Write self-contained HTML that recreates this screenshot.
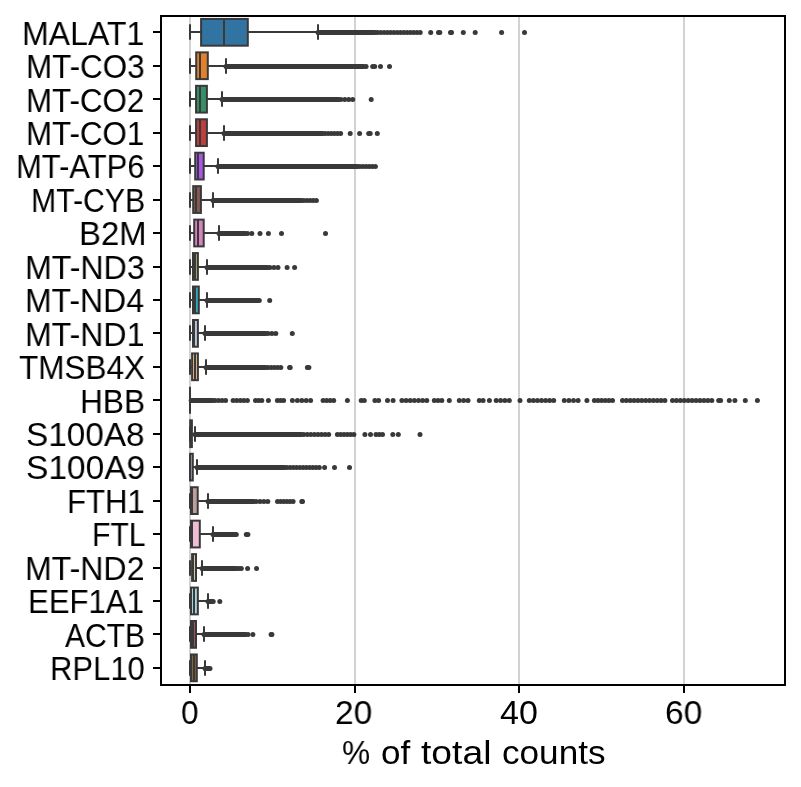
<!DOCTYPE html>
<html><head><meta charset="utf-8"><style>
html,body{margin:0;padding:0;background:#fff;}
body{width:801px;height:787px;position:relative;overflow:hidden;}
svg{position:absolute;left:0;top:0;}
.t{position:absolute;font-family:"Liberation Sans",sans-serif;font-size:34px;line-height:1;white-space:nowrap;color:#000;transform-origin:0 0;-webkit-font-smoothing:antialiased;will-change:transform;}
</style></head><body>
<svg width="801" height="787" viewBox="0 0 801 787">
<line x1="190" y1="16" x2="190" y2="685" stroke="#d2d2d2" stroke-width="2"/>
<line x1="355" y1="16" x2="355" y2="685" stroke="#d2d2d2" stroke-width="2"/>
<line x1="519" y1="16" x2="519" y2="685" stroke="#d2d2d2" stroke-width="2"/>
<line x1="684" y1="16" x2="684" y2="685" stroke="#d2d2d2" stroke-width="2"/>
<rect x="201.10" y="18.92" width="46.70" height="26.76" fill="#3274a1" stroke="#393939" stroke-width="2"/>
<line x1="190" y1="32" x2="201.10" y2="32" stroke="#393939" stroke-width="2"/>
<line x1="247.80" y1="32" x2="318" y2="32" stroke="#393939" stroke-width="2"/>
<line x1="190" y1="25.30" x2="190" y2="38.70" stroke="#393939" stroke-width="2" stroke-linecap="square"/>
<line x1="318" y1="25.30" x2="318" y2="38.70" stroke="#393939" stroke-width="2" stroke-linecap="square"/>
<line x1="224" y1="18.92" x2="224" y2="45.68" stroke="#393939" stroke-width="2"/>
<line x1="318.00" y1="32.50" x2="375.00" y2="32.50" stroke="#393939" stroke-width="5.0" stroke-linecap="round"/>
<circle cx="377.50" cy="32.50" r="2.5" fill="#393939"/>
<circle cx="380.78" cy="32.50" r="2.5" fill="#393939"/>
<circle cx="384.07" cy="32.50" r="2.5" fill="#393939"/>
<circle cx="387.35" cy="32.50" r="2.5" fill="#393939"/>
<circle cx="390.64" cy="32.50" r="2.5" fill="#393939"/>
<circle cx="393.92" cy="32.50" r="2.5" fill="#393939"/>
<circle cx="397.21" cy="32.50" r="2.5" fill="#393939"/>
<circle cx="400.49" cy="32.50" r="2.5" fill="#393939"/>
<circle cx="403.78" cy="32.50" r="2.5" fill="#393939"/>
<circle cx="407.06" cy="32.50" r="2.5" fill="#393939"/>
<circle cx="410.35" cy="32.50" r="2.5" fill="#393939"/>
<circle cx="413.63" cy="32.50" r="2.5" fill="#393939"/>
<circle cx="416.92" cy="32.50" r="2.5" fill="#393939"/>
<circle cx="420.20" cy="32.50" r="2.5" fill="#393939"/>
<circle cx="438.50" cy="32.50" r="2.5" fill="#393939"/>
<circle cx="439.80" cy="32.50" r="2.5" fill="#393939"/>
<circle cx="450.50" cy="32.50" r="2.5" fill="#393939"/>
<circle cx="451.50" cy="32.50" r="2.5" fill="#393939"/>
<circle cx="430.7" cy="32.50" r="2.5" fill="#393939"/>
<circle cx="463.3" cy="32.50" r="2.5" fill="#393939"/>
<circle cx="475.2" cy="32.50" r="2.5" fill="#393939"/>
<circle cx="501.6" cy="32.50" r="2.5" fill="#393939"/>
<circle cx="524.5" cy="32.50" r="2.5" fill="#393939"/>
<rect x="196.20" y="52.37" width="11.60" height="26.76" fill="#e1812c" stroke="#393939" stroke-width="2"/>
<line x1="190" y1="66" x2="196.20" y2="66" stroke="#393939" stroke-width="2"/>
<line x1="207.80" y1="66" x2="226" y2="66" stroke="#393939" stroke-width="2"/>
<line x1="190" y1="59.30" x2="190" y2="72.70" stroke="#393939" stroke-width="2" stroke-linecap="square"/>
<line x1="226" y1="59.30" x2="226" y2="72.70" stroke="#393939" stroke-width="2" stroke-linecap="square"/>
<line x1="200" y1="52.37" x2="200" y2="79.13" stroke="#393939" stroke-width="2"/>
<line x1="226.00" y1="66.50" x2="363.70" y2="66.50" stroke="#393939" stroke-width="5.0" stroke-linecap="round"/>
<circle cx="366.10" cy="66.50" r="2.5" fill="#393939"/>
<circle cx="372.70" cy="66.50" r="2.5" fill="#393939"/>
<circle cx="374.70" cy="66.50" r="2.5" fill="#393939"/>
<circle cx="380.5" cy="66.50" r="2.5" fill="#393939"/>
<circle cx="389.5" cy="66.50" r="2.5" fill="#393939"/>
<rect x="196.05" y="85.82" width="10.85" height="26.76" fill="#368f67" stroke="#393939" stroke-width="2"/>
<line x1="190" y1="99" x2="196.05" y2="99" stroke="#393939" stroke-width="2"/>
<line x1="206.90" y1="99" x2="222" y2="99" stroke="#393939" stroke-width="2"/>
<line x1="190" y1="92.30" x2="190" y2="105.70" stroke="#393939" stroke-width="2" stroke-linecap="square"/>
<line x1="222" y1="92.30" x2="222" y2="105.70" stroke="#393939" stroke-width="2" stroke-linecap="square"/>
<line x1="200" y1="85.82" x2="200" y2="112.58" stroke="#393939" stroke-width="2"/>
<line x1="222.00" y1="99.50" x2="338.40" y2="99.50" stroke="#393939" stroke-width="5.0" stroke-linecap="round"/>
<circle cx="340.90" cy="99.50" r="2.5" fill="#393939"/>
<circle cx="344.83" cy="99.50" r="2.5" fill="#393939"/>
<circle cx="348.77" cy="99.50" r="2.5" fill="#393939"/>
<circle cx="352.70" cy="99.50" r="2.5" fill="#393939"/>
<circle cx="371.2" cy="99.50" r="2.5" fill="#393939"/>
<rect x="196.05" y="119.27" width="10.85" height="26.76" fill="#c03d3e" stroke="#393939" stroke-width="2"/>
<line x1="190" y1="133" x2="196.05" y2="133" stroke="#393939" stroke-width="2"/>
<line x1="206.90" y1="133" x2="224" y2="133" stroke="#393939" stroke-width="2"/>
<line x1="190" y1="126.30" x2="190" y2="139.70" stroke="#393939" stroke-width="2" stroke-linecap="square"/>
<line x1="224" y1="126.30" x2="224" y2="139.70" stroke="#393939" stroke-width="2" stroke-linecap="square"/>
<line x1="200" y1="119.27" x2="200" y2="146.03" stroke="#393939" stroke-width="2"/>
<line x1="224.00" y1="133.50" x2="322.50" y2="133.50" stroke="#393939" stroke-width="5.0" stroke-linecap="round"/>
<circle cx="325.00" cy="133.50" r="2.5" fill="#393939"/>
<circle cx="328.12" cy="133.50" r="2.5" fill="#393939"/>
<circle cx="331.24" cy="133.50" r="2.5" fill="#393939"/>
<circle cx="334.36" cy="133.50" r="2.5" fill="#393939"/>
<circle cx="337.48" cy="133.50" r="2.5" fill="#393939"/>
<circle cx="340.60" cy="133.50" r="2.5" fill="#393939"/>
<circle cx="368.70" cy="133.50" r="2.5" fill="#393939"/>
<circle cx="370.20" cy="133.50" r="2.5" fill="#393939"/>
<circle cx="350.2" cy="133.50" r="2.5" fill="#393939"/>
<circle cx="359.6" cy="133.50" r="2.5" fill="#393939"/>
<circle cx="377.3" cy="133.50" r="2.5" fill="#393939"/>
<rect x="195.20" y="152.72" width="8.50" height="26.76" fill="#a758e4" stroke="#393939" stroke-width="2"/>
<line x1="190" y1="166" x2="195.20" y2="166" stroke="#393939" stroke-width="2"/>
<line x1="203.70" y1="166" x2="218" y2="166" stroke="#393939" stroke-width="2"/>
<line x1="190" y1="159.30" x2="190" y2="172.70" stroke="#393939" stroke-width="2" stroke-linecap="square"/>
<line x1="218" y1="159.30" x2="218" y2="172.70" stroke="#393939" stroke-width="2" stroke-linecap="square"/>
<line x1="198" y1="152.72" x2="198" y2="179.48" stroke="#393939" stroke-width="2"/>
<line x1="218.00" y1="166.50" x2="357.30" y2="166.50" stroke="#393939" stroke-width="5.0" stroke-linecap="round"/>
<circle cx="359.80" cy="166.50" r="2.5" fill="#393939"/>
<circle cx="362.92" cy="166.50" r="2.5" fill="#393939"/>
<circle cx="366.04" cy="166.50" r="2.5" fill="#393939"/>
<circle cx="369.16" cy="166.50" r="2.5" fill="#393939"/>
<circle cx="372.28" cy="166.50" r="2.5" fill="#393939"/>
<circle cx="375.40" cy="166.50" r="2.5" fill="#393939"/>
<rect x="193.20" y="186.17" width="7.70" height="26.76" fill="#845b53" stroke="#393939" stroke-width="2"/>
<line x1="190" y1="200" x2="193.20" y2="200" stroke="#393939" stroke-width="2"/>
<line x1="200.90" y1="200" x2="213" y2="200" stroke="#393939" stroke-width="2"/>
<line x1="190" y1="193.30" x2="190" y2="206.70" stroke="#393939" stroke-width="2" stroke-linecap="square"/>
<line x1="213" y1="193.30" x2="213" y2="206.70" stroke="#393939" stroke-width="2" stroke-linecap="square"/>
<line x1="196" y1="186.17" x2="196" y2="212.93" stroke="#393939" stroke-width="2"/>
<line x1="213.00" y1="200.50" x2="301.20" y2="200.50" stroke="#393939" stroke-width="5.0" stroke-linecap="round"/>
<circle cx="303.70" cy="200.50" r="2.5" fill="#393939"/>
<circle cx="306.88" cy="200.50" r="2.5" fill="#393939"/>
<circle cx="310.05" cy="200.50" r="2.5" fill="#393939"/>
<circle cx="313.22" cy="200.50" r="2.5" fill="#393939"/>
<circle cx="316.40" cy="200.50" r="2.5" fill="#393939"/>
<rect x="194.20" y="219.62" width="9.50" height="26.76" fill="#d684bd" stroke="#393939" stroke-width="2"/>
<line x1="190" y1="233" x2="194.20" y2="233" stroke="#393939" stroke-width="2"/>
<line x1="203.70" y1="233" x2="219" y2="233" stroke="#393939" stroke-width="2"/>
<line x1="190" y1="226.30" x2="190" y2="239.70" stroke="#393939" stroke-width="2" stroke-linecap="square"/>
<line x1="219" y1="226.30" x2="219" y2="239.70" stroke="#393939" stroke-width="2" stroke-linecap="square"/>
<line x1="198" y1="219.62" x2="198" y2="246.38" stroke="#393939" stroke-width="2"/>
<line x1="219.00" y1="233.50" x2="245.00" y2="233.50" stroke="#393939" stroke-width="5.0" stroke-linecap="round"/>
<circle cx="247.50" cy="233.50" r="2.5" fill="#393939"/>
<circle cx="251.80" cy="233.50" r="2.5" fill="#393939"/>
<circle cx="260" cy="233.50" r="2.5" fill="#393939"/>
<circle cx="268.4" cy="233.50" r="2.5" fill="#393939"/>
<circle cx="281.5" cy="233.50" r="2.5" fill="#393939"/>
<circle cx="325.5" cy="233.50" r="2.5" fill="#393939"/>
<rect x="193.00" y="253.07" width="4.90" height="26.76" fill="#acb26d" stroke="#393939" stroke-width="2"/>
<line x1="190" y1="267" x2="193.00" y2="267" stroke="#393939" stroke-width="2"/>
<line x1="197.90" y1="267" x2="207" y2="267" stroke="#393939" stroke-width="2"/>
<line x1="190" y1="260.30" x2="190" y2="273.70" stroke="#393939" stroke-width="2" stroke-linecap="square"/>
<line x1="207" y1="260.30" x2="207" y2="273.70" stroke="#393939" stroke-width="2" stroke-linecap="square"/>
<line x1="195" y1="253.07" x2="195" y2="279.83" stroke="#393939" stroke-width="2"/>
<line x1="207.00" y1="267.50" x2="267.40" y2="267.50" stroke="#393939" stroke-width="5.0" stroke-linecap="round"/>
<circle cx="269.90" cy="267.50" r="2.5" fill="#393939"/>
<circle cx="273.95" cy="267.50" r="2.5" fill="#393939"/>
<circle cx="278.00" cy="267.50" r="2.5" fill="#393939"/>
<circle cx="287.1" cy="267.50" r="2.5" fill="#393939"/>
<circle cx="294.6" cy="267.50" r="2.5" fill="#393939"/>
<rect x="193.00" y="286.52" width="5.80" height="26.76" fill="#2eabb8" stroke="#393939" stroke-width="2"/>
<line x1="190" y1="300" x2="193.00" y2="300" stroke="#393939" stroke-width="2"/>
<line x1="198.80" y1="300" x2="207" y2="300" stroke="#393939" stroke-width="2"/>
<line x1="190" y1="293.30" x2="190" y2="306.70" stroke="#393939" stroke-width="2" stroke-linecap="square"/>
<line x1="207" y1="293.30" x2="207" y2="306.70" stroke="#393939" stroke-width="2" stroke-linecap="square"/>
<line x1="195" y1="286.52" x2="195" y2="313.28" stroke="#393939" stroke-width="2"/>
<line x1="207.00" y1="300.50" x2="259.30" y2="300.50" stroke="#393939" stroke-width="5.0" stroke-linecap="round"/>
<circle cx="269.7" cy="300.50" r="2.5" fill="#393939"/>
<rect x="193.00" y="319.97" width="4.90" height="26.76" fill="#b5c8e1" stroke="#393939" stroke-width="2"/>
<line x1="190" y1="333" x2="193.00" y2="333" stroke="#393939" stroke-width="2"/>
<line x1="197.90" y1="333" x2="205" y2="333" stroke="#393939" stroke-width="2"/>
<line x1="190" y1="326.30" x2="190" y2="339.70" stroke="#393939" stroke-width="2" stroke-linecap="square"/>
<line x1="205" y1="326.30" x2="205" y2="339.70" stroke="#393939" stroke-width="2" stroke-linecap="square"/>
<line x1="194" y1="319.97" x2="194" y2="346.73" stroke="#393939" stroke-width="2"/>
<line x1="205.00" y1="333.50" x2="265.50" y2="333.50" stroke="#393939" stroke-width="5.0" stroke-linecap="round"/>
<circle cx="268.00" cy="333.50" r="2.5" fill="#393939"/>
<circle cx="271.90" cy="333.50" r="2.5" fill="#393939"/>
<circle cx="275.80" cy="333.50" r="2.5" fill="#393939"/>
<circle cx="292.3" cy="333.50" r="2.5" fill="#393939"/>
<rect x="192.10" y="353.42" width="5.80" height="26.76" fill="#eebb89" stroke="#393939" stroke-width="2"/>
<line x1="190" y1="367" x2="192.10" y2="367" stroke="#393939" stroke-width="2"/>
<line x1="197.90" y1="367" x2="206" y2="367" stroke="#393939" stroke-width="2"/>
<line x1="190" y1="360.30" x2="190" y2="373.70" stroke="#393939" stroke-width="2" stroke-linecap="square"/>
<line x1="206" y1="360.30" x2="206" y2="373.70" stroke="#393939" stroke-width="2" stroke-linecap="square"/>
<line x1="195" y1="353.42" x2="195" y2="380.18" stroke="#393939" stroke-width="2"/>
<line x1="206.00" y1="367.50" x2="265.50" y2="367.50" stroke="#393939" stroke-width="5.0" stroke-linecap="round"/>
<circle cx="268.00" cy="367.50" r="2.5" fill="#393939"/>
<circle cx="271.20" cy="367.50" r="2.5" fill="#393939"/>
<circle cx="274.40" cy="367.50" r="2.5" fill="#393939"/>
<circle cx="277.60" cy="367.50" r="2.5" fill="#393939"/>
<circle cx="280.80" cy="367.50" r="2.5" fill="#393939"/>
<circle cx="289.60" cy="367.50" r="2.5" fill="#393939"/>
<circle cx="290.20" cy="367.50" r="2.5" fill="#393939"/>
<circle cx="307.40" cy="367.50" r="2.5" fill="#393939"/>
<circle cx="308.90" cy="367.50" r="2.5" fill="#393939"/>
<rect x="190.00" y="386.87" width="0.00" height="26.76" fill="#9fd495" stroke="#393939" stroke-width="2"/>
<line x1="190" y1="400" x2="190.00" y2="400" stroke="#393939" stroke-width="2"/>
<line x1="190.00" y1="400" x2="190" y2="400" stroke="#393939" stroke-width="2"/>
<line x1="190" y1="393.30" x2="190" y2="406.70" stroke="#393939" stroke-width="2" stroke-linecap="square"/>
<line x1="190" y1="393.30" x2="190" y2="406.70" stroke="#393939" stroke-width="2" stroke-linecap="square"/>
<line x1="190" y1="386.87" x2="190" y2="413.63" stroke="#393939" stroke-width="2"/>
<line x1="191.20" y1="400.50" x2="212.50" y2="400.50" stroke="#393939" stroke-width="5.0" stroke-linecap="round"/>
<circle cx="215.00" cy="400.50" r="2.5" fill="#393939"/>
<circle cx="218.53" cy="400.50" r="2.5" fill="#393939"/>
<circle cx="222.07" cy="400.50" r="2.5" fill="#393939"/>
<circle cx="225.60" cy="400.50" r="2.5" fill="#393939"/>
<circle cx="233.10" cy="400.50" r="2.5" fill="#393939"/>
<circle cx="236.68" cy="400.50" r="2.5" fill="#393939"/>
<circle cx="240.25" cy="400.50" r="2.5" fill="#393939"/>
<circle cx="243.82" cy="400.50" r="2.5" fill="#393939"/>
<circle cx="247.40" cy="400.50" r="2.5" fill="#393939"/>
<circle cx="255.50" cy="400.50" r="2.5" fill="#393939"/>
<circle cx="258.65" cy="400.50" r="2.5" fill="#393939"/>
<circle cx="261.80" cy="400.50" r="2.5" fill="#393939"/>
<circle cx="277.40" cy="400.50" r="2.5" fill="#393939"/>
<circle cx="280.50" cy="400.50" r="2.5" fill="#393939"/>
<circle cx="283.60" cy="400.50" r="2.5" fill="#393939"/>
<circle cx="297.40" cy="400.50" r="2.5" fill="#393939"/>
<circle cx="301.80" cy="400.50" r="2.5" fill="#393939"/>
<circle cx="306.20" cy="400.50" r="2.5" fill="#393939"/>
<circle cx="310.60" cy="400.50" r="2.5" fill="#393939"/>
<circle cx="323.10" cy="400.50" r="2.5" fill="#393939"/>
<circle cx="326.63" cy="400.50" r="2.5" fill="#393939"/>
<circle cx="330.17" cy="400.50" r="2.5" fill="#393939"/>
<circle cx="333.70" cy="400.50" r="2.5" fill="#393939"/>
<circle cx="361.20" cy="400.50" r="2.5" fill="#393939"/>
<circle cx="364.30" cy="400.50" r="2.5" fill="#393939"/>
<circle cx="374.90" cy="400.50" r="2.5" fill="#393939"/>
<circle cx="378.60" cy="400.50" r="2.5" fill="#393939"/>
<circle cx="387.50" cy="400.50" r="2.5" fill="#393939"/>
<circle cx="393.10" cy="400.50" r="2.5" fill="#393939"/>
<circle cx="401.90" cy="400.50" r="2.5" fill="#393939"/>
<circle cx="406.05" cy="400.50" r="2.5" fill="#393939"/>
<circle cx="410.20" cy="400.50" r="2.5" fill="#393939"/>
<circle cx="414.35" cy="400.50" r="2.5" fill="#393939"/>
<circle cx="418.50" cy="400.50" r="2.5" fill="#393939"/>
<circle cx="422.65" cy="400.50" r="2.5" fill="#393939"/>
<circle cx="426.80" cy="400.50" r="2.5" fill="#393939"/>
<circle cx="434.30" cy="400.50" r="2.5" fill="#393939"/>
<circle cx="438.05" cy="400.50" r="2.5" fill="#393939"/>
<circle cx="441.80" cy="400.50" r="2.5" fill="#393939"/>
<circle cx="459.30" cy="400.50" r="2.5" fill="#393939"/>
<circle cx="463.65" cy="400.50" r="2.5" fill="#393939"/>
<circle cx="468.00" cy="400.50" r="2.5" fill="#393939"/>
<circle cx="479.30" cy="400.50" r="2.5" fill="#393939"/>
<circle cx="483.10" cy="400.50" r="2.5" fill="#393939"/>
<circle cx="496.20" cy="400.50" r="2.5" fill="#393939"/>
<circle cx="500.57" cy="400.50" r="2.5" fill="#393939"/>
<circle cx="504.93" cy="400.50" r="2.5" fill="#393939"/>
<circle cx="509.30" cy="400.50" r="2.5" fill="#393939"/>
<circle cx="529.30" cy="400.50" r="2.5" fill="#393939"/>
<circle cx="533.37" cy="400.50" r="2.5" fill="#393939"/>
<circle cx="537.43" cy="400.50" r="2.5" fill="#393939"/>
<circle cx="541.50" cy="400.50" r="2.5" fill="#393939"/>
<circle cx="545.57" cy="400.50" r="2.5" fill="#393939"/>
<circle cx="549.63" cy="400.50" r="2.5" fill="#393939"/>
<circle cx="553.70" cy="400.50" r="2.5" fill="#393939"/>
<circle cx="564.30" cy="400.50" r="2.5" fill="#393939"/>
<circle cx="568.90" cy="400.50" r="2.5" fill="#393939"/>
<circle cx="573.50" cy="400.50" r="2.5" fill="#393939"/>
<circle cx="578.10" cy="400.50" r="2.5" fill="#393939"/>
<circle cx="594.40" cy="400.50" r="2.5" fill="#393939"/>
<circle cx="598.02" cy="400.50" r="2.5" fill="#393939"/>
<circle cx="601.64" cy="400.50" r="2.5" fill="#393939"/>
<circle cx="605.26" cy="400.50" r="2.5" fill="#393939"/>
<circle cx="608.88" cy="400.50" r="2.5" fill="#393939"/>
<circle cx="612.50" cy="400.50" r="2.5" fill="#393939"/>
<circle cx="622.50" cy="400.50" r="2.5" fill="#393939"/>
<circle cx="626.35" cy="400.50" r="2.5" fill="#393939"/>
<circle cx="630.21" cy="400.50" r="2.5" fill="#393939"/>
<circle cx="634.06" cy="400.50" r="2.5" fill="#393939"/>
<circle cx="637.92" cy="400.50" r="2.5" fill="#393939"/>
<circle cx="641.77" cy="400.50" r="2.5" fill="#393939"/>
<circle cx="645.63" cy="400.50" r="2.5" fill="#393939"/>
<circle cx="649.48" cy="400.50" r="2.5" fill="#393939"/>
<circle cx="653.34" cy="400.50" r="2.5" fill="#393939"/>
<circle cx="657.19" cy="400.50" r="2.5" fill="#393939"/>
<circle cx="661.05" cy="400.50" r="2.5" fill="#393939"/>
<circle cx="664.90" cy="400.50" r="2.5" fill="#393939"/>
<circle cx="672.50" cy="400.50" r="2.5" fill="#393939"/>
<circle cx="676.43" cy="400.50" r="2.5" fill="#393939"/>
<circle cx="680.36" cy="400.50" r="2.5" fill="#393939"/>
<circle cx="684.29" cy="400.50" r="2.5" fill="#393939"/>
<circle cx="688.22" cy="400.50" r="2.5" fill="#393939"/>
<circle cx="692.15" cy="400.50" r="2.5" fill="#393939"/>
<circle cx="696.08" cy="400.50" r="2.5" fill="#393939"/>
<circle cx="700.01" cy="400.50" r="2.5" fill="#393939"/>
<circle cx="703.94" cy="400.50" r="2.5" fill="#393939"/>
<circle cx="707.87" cy="400.50" r="2.5" fill="#393939"/>
<circle cx="711.80" cy="400.50" r="2.5" fill="#393939"/>
<circle cx="718.70" cy="400.50" r="2.5" fill="#393939"/>
<circle cx="720.60" cy="400.50" r="2.5" fill="#393939"/>
<circle cx="729.30" cy="400.50" r="2.5" fill="#393939"/>
<circle cx="734.90" cy="400.50" r="2.5" fill="#393939"/>
<circle cx="268.4" cy="400.50" r="2.5" fill="#393939"/>
<circle cx="292.4" cy="400.50" r="2.5" fill="#393939"/>
<circle cx="347.4" cy="400.50" r="2.5" fill="#393939"/>
<circle cx="449.3" cy="400.50" r="2.5" fill="#393939"/>
<circle cx="489.4" cy="400.50" r="2.5" fill="#393939"/>
<circle cx="520" cy="400.50" r="2.5" fill="#393939"/>
<circle cx="586.9" cy="400.50" r="2.5" fill="#393939"/>
<circle cx="745.3" cy="400.50" r="2.5" fill="#393939"/>
<circle cx="757.4" cy="400.50" r="2.5" fill="#393939"/>
<rect x="190.20" y="420.32" width="1.70" height="26.76" fill="#f2a5a3" stroke="#393939" stroke-width="2"/>
<line x1="190" y1="434" x2="190.20" y2="434" stroke="#393939" stroke-width="2"/>
<line x1="191.90" y1="434" x2="195" y2="434" stroke="#393939" stroke-width="2"/>
<line x1="190" y1="427.30" x2="190" y2="440.70" stroke="#393939" stroke-width="2" stroke-linecap="square"/>
<line x1="195" y1="427.30" x2="195" y2="440.70" stroke="#393939" stroke-width="2" stroke-linecap="square"/>
<line x1="191" y1="420.32" x2="191" y2="447.08" stroke="#393939" stroke-width="2"/>
<line x1="195.00" y1="434.50" x2="301.20" y2="434.50" stroke="#393939" stroke-width="5.0" stroke-linecap="round"/>
<circle cx="303.70" cy="434.50" r="2.5" fill="#393939"/>
<circle cx="307.27" cy="434.50" r="2.5" fill="#393939"/>
<circle cx="310.84" cy="434.50" r="2.5" fill="#393939"/>
<circle cx="314.41" cy="434.50" r="2.5" fill="#393939"/>
<circle cx="317.99" cy="434.50" r="2.5" fill="#393939"/>
<circle cx="321.56" cy="434.50" r="2.5" fill="#393939"/>
<circle cx="325.13" cy="434.50" r="2.5" fill="#393939"/>
<circle cx="328.70" cy="434.50" r="2.5" fill="#393939"/>
<circle cx="337.40" cy="434.50" r="2.5" fill="#393939"/>
<circle cx="340.70" cy="434.50" r="2.5" fill="#393939"/>
<circle cx="344.00" cy="434.50" r="2.5" fill="#393939"/>
<circle cx="347.30" cy="434.50" r="2.5" fill="#393939"/>
<circle cx="350.60" cy="434.50" r="2.5" fill="#393939"/>
<circle cx="353.90" cy="434.50" r="2.5" fill="#393939"/>
<circle cx="376.00" cy="434.50" r="2.5" fill="#393939"/>
<circle cx="379.25" cy="434.50" r="2.5" fill="#393939"/>
<circle cx="382.50" cy="434.50" r="2.5" fill="#393939"/>
<circle cx="364.9" cy="434.50" r="2.5" fill="#393939"/>
<circle cx="370.5" cy="434.50" r="2.5" fill="#393939"/>
<circle cx="392.8" cy="434.50" r="2.5" fill="#393939"/>
<circle cx="398.3" cy="434.50" r="2.5" fill="#393939"/>
<circle cx="420" cy="434.50" r="2.5" fill="#393939"/>
<rect x="190.20" y="453.77" width="2.60" height="26.76" fill="#c4b5d0" stroke="#393939" stroke-width="2"/>
<line x1="190" y1="467" x2="190.20" y2="467" stroke="#393939" stroke-width="2"/>
<line x1="192.80" y1="467" x2="197" y2="467" stroke="#393939" stroke-width="2"/>
<line x1="190" y1="460.30" x2="190" y2="473.70" stroke="#393939" stroke-width="2" stroke-linecap="square"/>
<line x1="197" y1="460.30" x2="197" y2="473.70" stroke="#393939" stroke-width="2" stroke-linecap="square"/>
<line x1="190" y1="453.77" x2="190" y2="480.53" stroke="#393939" stroke-width="2"/>
<line x1="197.00" y1="467.50" x2="284.30" y2="467.50" stroke="#393939" stroke-width="5.0" stroke-linecap="round"/>
<circle cx="286.80" cy="467.50" r="2.5" fill="#393939"/>
<circle cx="290.05" cy="467.50" r="2.5" fill="#393939"/>
<circle cx="293.30" cy="467.50" r="2.5" fill="#393939"/>
<circle cx="296.55" cy="467.50" r="2.5" fill="#393939"/>
<circle cx="299.80" cy="467.50" r="2.5" fill="#393939"/>
<circle cx="303.05" cy="467.50" r="2.5" fill="#393939"/>
<circle cx="306.30" cy="467.50" r="2.5" fill="#393939"/>
<circle cx="309.55" cy="467.50" r="2.5" fill="#393939"/>
<circle cx="312.80" cy="467.50" r="2.5" fill="#393939"/>
<circle cx="316.05" cy="467.50" r="2.5" fill="#393939"/>
<circle cx="319.30" cy="467.50" r="2.5" fill="#393939"/>
<circle cx="324.6" cy="467.50" r="2.5" fill="#393939"/>
<circle cx="334.5" cy="467.50" r="2.5" fill="#393939"/>
<circle cx="349.5" cy="467.50" r="2.5" fill="#393939"/>
<rect x="191.00" y="487.22" width="6.70" height="26.76" fill="#bea09a" stroke="#393939" stroke-width="2"/>
<line x1="190" y1="501" x2="191.00" y2="501" stroke="#393939" stroke-width="2"/>
<line x1="197.70" y1="501" x2="208" y2="501" stroke="#393939" stroke-width="2"/>
<line x1="190" y1="494.30" x2="190" y2="507.70" stroke="#393939" stroke-width="2" stroke-linecap="square"/>
<line x1="208" y1="494.30" x2="208" y2="507.70" stroke="#393939" stroke-width="2" stroke-linecap="square"/>
<line x1="192" y1="487.22" x2="192" y2="513.98" stroke="#393939" stroke-width="2"/>
<line x1="208.00" y1="501.50" x2="253.60" y2="501.50" stroke="#393939" stroke-width="5.0" stroke-linecap="round"/>
<circle cx="256.10" cy="501.50" r="2.5" fill="#393939"/>
<circle cx="260.00" cy="501.50" r="2.5" fill="#393939"/>
<circle cx="263.90" cy="501.50" r="2.5" fill="#393939"/>
<circle cx="267.80" cy="501.50" r="2.5" fill="#393939"/>
<circle cx="277.50" cy="501.50" r="2.5" fill="#393939"/>
<circle cx="280.62" cy="501.50" r="2.5" fill="#393939"/>
<circle cx="283.74" cy="501.50" r="2.5" fill="#393939"/>
<circle cx="286.86" cy="501.50" r="2.5" fill="#393939"/>
<circle cx="289.98" cy="501.50" r="2.5" fill="#393939"/>
<circle cx="293.10" cy="501.50" r="2.5" fill="#393939"/>
<circle cx="301.80" cy="501.50" r="2.5" fill="#393939"/>
<circle cx="302.50" cy="501.50" r="2.5" fill="#393939"/>
<rect x="191.00" y="520.67" width="8.80" height="26.76" fill="#efbed3" stroke="#393939" stroke-width="2"/>
<line x1="190" y1="534" x2="191.00" y2="534" stroke="#393939" stroke-width="2"/>
<line x1="199.80" y1="534" x2="213" y2="534" stroke="#393939" stroke-width="2"/>
<line x1="190" y1="527.30" x2="190" y2="540.70" stroke="#393939" stroke-width="2" stroke-linecap="square"/>
<line x1="213" y1="527.30" x2="213" y2="540.70" stroke="#393939" stroke-width="2" stroke-linecap="square"/>
<line x1="192" y1="520.67" x2="192" y2="547.43" stroke="#393939" stroke-width="2"/>
<line x1="213.00" y1="534.50" x2="236.30" y2="534.50" stroke="#393939" stroke-width="5.0" stroke-linecap="round"/>
<circle cx="246.30" cy="534.50" r="2.5" fill="#393939"/>
<circle cx="247.90" cy="534.50" r="2.5" fill="#393939"/>
<rect x="192.10" y="554.12" width="3.90" height="26.76" fill="#d1d197" stroke="#393939" stroke-width="2"/>
<line x1="190" y1="568" x2="192.10" y2="568" stroke="#393939" stroke-width="2"/>
<line x1="196.00" y1="568" x2="202" y2="568" stroke="#393939" stroke-width="2"/>
<line x1="190" y1="561.30" x2="190" y2="574.70" stroke="#393939" stroke-width="2" stroke-linecap="square"/>
<line x1="202" y1="561.30" x2="202" y2="574.70" stroke="#393939" stroke-width="2" stroke-linecap="square"/>
<line x1="193" y1="554.12" x2="193" y2="580.88" stroke="#393939" stroke-width="2"/>
<line x1="202.00" y1="568.50" x2="236.40" y2="568.50" stroke="#393939" stroke-width="5.0" stroke-linecap="round"/>
<circle cx="238.90" cy="568.50" r="2.5" fill="#393939"/>
<circle cx="241.30" cy="568.50" r="2.5" fill="#393939"/>
<circle cx="247.6" cy="568.50" r="2.5" fill="#393939"/>
<circle cx="256.5" cy="568.50" r="2.5" fill="#393939"/>
<rect x="191.00" y="587.57" width="6.85" height="26.76" fill="#a7d4dc" stroke="#393939" stroke-width="2"/>
<line x1="190" y1="601" x2="191.00" y2="601" stroke="#393939" stroke-width="2"/>
<line x1="197.85" y1="601" x2="208" y2="601" stroke="#393939" stroke-width="2"/>
<line x1="190" y1="594.30" x2="190" y2="607.70" stroke="#393939" stroke-width="2" stroke-linecap="square"/>
<line x1="208" y1="594.30" x2="208" y2="607.70" stroke="#393939" stroke-width="2" stroke-linecap="square"/>
<line x1="194" y1="587.57" x2="194" y2="614.33" stroke="#393939" stroke-width="2"/>
<line x1="208.00" y1="601.50" x2="213.20" y2="601.50" stroke="#393939" stroke-width="5.0" stroke-linecap="round"/>
<circle cx="219.8" cy="601.50" r="2.5" fill="#393939"/>
<rect x="191.00" y="621.02" width="5.00" height="26.76" fill="#a05656" stroke="#393939" stroke-width="2"/>
<line x1="190" y1="634" x2="191.00" y2="634" stroke="#393939" stroke-width="2"/>
<line x1="196.00" y1="634" x2="204" y2="634" stroke="#393939" stroke-width="2"/>
<line x1="190" y1="627.30" x2="190" y2="640.70" stroke="#393939" stroke-width="2" stroke-linecap="square"/>
<line x1="204" y1="627.30" x2="204" y2="640.70" stroke="#393939" stroke-width="2" stroke-linecap="square"/>
<line x1="193" y1="621.02" x2="193" y2="647.78" stroke="#393939" stroke-width="2"/>
<line x1="204.00" y1="634.50" x2="245.50" y2="634.50" stroke="#393939" stroke-width="5.0" stroke-linecap="round"/>
<circle cx="248.00" cy="634.50" r="2.5" fill="#393939"/>
<circle cx="252.90" cy="634.50" r="2.5" fill="#393939"/>
<circle cx="271.10" cy="634.50" r="2.5" fill="#393939"/>
<circle cx="271.90" cy="634.50" r="2.5" fill="#393939"/>
<rect x="191.00" y="654.47" width="5.80" height="26.76" fill="#81693c" stroke="#393939" stroke-width="2"/>
<line x1="190" y1="668" x2="191.00" y2="668" stroke="#393939" stroke-width="2"/>
<line x1="196.80" y1="668" x2="205" y2="668" stroke="#393939" stroke-width="2"/>
<line x1="190" y1="661.30" x2="190" y2="674.70" stroke="#393939" stroke-width="2" stroke-linecap="square"/>
<line x1="205" y1="661.30" x2="205" y2="674.70" stroke="#393939" stroke-width="2" stroke-linecap="square"/>
<line x1="194" y1="654.47" x2="194" y2="681.23" stroke="#393939" stroke-width="2"/>
<line x1="205.00" y1="668.50" x2="210.00" y2="668.50" stroke="#393939" stroke-width="5.0" stroke-linecap="round"/>
<rect x="161" y="16" width="624" height="669" fill="none" stroke="#000" stroke-width="2"/>
<line x1="153" y1="32" x2="161" y2="32" stroke="#000" stroke-width="2"/>
<line x1="153" y1="66" x2="161" y2="66" stroke="#000" stroke-width="2"/>
<line x1="153" y1="99" x2="161" y2="99" stroke="#000" stroke-width="2"/>
<line x1="153" y1="133" x2="161" y2="133" stroke="#000" stroke-width="2"/>
<line x1="153" y1="166" x2="161" y2="166" stroke="#000" stroke-width="2"/>
<line x1="153" y1="200" x2="161" y2="200" stroke="#000" stroke-width="2"/>
<line x1="153" y1="233" x2="161" y2="233" stroke="#000" stroke-width="2"/>
<line x1="153" y1="267" x2="161" y2="267" stroke="#000" stroke-width="2"/>
<line x1="153" y1="300" x2="161" y2="300" stroke="#000" stroke-width="2"/>
<line x1="153" y1="333" x2="161" y2="333" stroke="#000" stroke-width="2"/>
<line x1="153" y1="367" x2="161" y2="367" stroke="#000" stroke-width="2"/>
<line x1="153" y1="400" x2="161" y2="400" stroke="#000" stroke-width="2"/>
<line x1="153" y1="434" x2="161" y2="434" stroke="#000" stroke-width="2"/>
<line x1="153" y1="467" x2="161" y2="467" stroke="#000" stroke-width="2"/>
<line x1="153" y1="501" x2="161" y2="501" stroke="#000" stroke-width="2"/>
<line x1="153" y1="534" x2="161" y2="534" stroke="#000" stroke-width="2"/>
<line x1="153" y1="568" x2="161" y2="568" stroke="#000" stroke-width="2"/>
<line x1="153" y1="601" x2="161" y2="601" stroke="#000" stroke-width="2"/>
<line x1="153" y1="634" x2="161" y2="634" stroke="#000" stroke-width="2"/>
<line x1="153" y1="668" x2="161" y2="668" stroke="#000" stroke-width="2"/>
<line x1="190" y1="685" x2="190" y2="693" stroke="#000" stroke-width="2"/>
<line x1="355" y1="685" x2="355" y2="693" stroke="#000" stroke-width="2"/>
<line x1="519" y1="685" x2="519" y2="693" stroke="#000" stroke-width="2"/>
<line x1="684" y1="685" x2="684" y2="693" stroke="#000" stroke-width="2"/>
</svg>
<div class="t" style="left:22.13px;top:16px;transform:scaleX(0.9429)">MALAT1</div>
<div class="t" style="left:26.44px;top:49px;transform:scaleX(0.9240)">MT-CO3</div>
<div class="t" style="left:26.45px;top:83px;transform:scaleX(0.9213)">MT-CO2</div>
<div class="t" style="left:26.45px;top:116px;transform:scaleX(0.9212)">MT-CO1</div>
<div class="t" style="left:16.38px;top:149px;transform:scaleX(0.9107)">MT-ATP6</div>
<div class="t" style="left:30.54px;top:183px;transform:scaleX(0.8893)">MT-CYB</div>
<div class="t" style="left:78.57px;top:216px;transform:scaleX(0.9664)">B2M</div>
<div class="t" style="left:25.38px;top:250px;transform:scaleX(0.9461)">MT-ND3</div>
<div class="t" style="left:25.40px;top:283px;transform:scaleX(0.9403)">MT-ND4</div>
<div class="t" style="left:25.39px;top:317px;transform:scaleX(0.9437)">MT-ND1</div>
<div class="t" style="left:19.29px;top:350px;transform:scaleX(0.9266)">TMSB4X</div>
<div class="t" style="left:80.36px;top:384px;transform:scaleX(0.9309)">HBB</div>
<div class="t" style="left:26.29px;top:417px;transform:scaleX(0.9800)">S100A8</div>
<div class="t" style="left:26.28px;top:450px;transform:scaleX(0.9853)">S100A9</div>
<div class="t" style="left:66.76px;top:484px;transform:scaleX(0.9157)">FTH1</div>
<div class="t" style="left:92.45px;top:517px;transform:scaleX(0.8867)">FTL</div>
<div class="t" style="left:25.39px;top:551px;transform:scaleX(0.9438)">MT-ND2</div>
<div class="t" style="left:28.46px;top:584px;transform:scaleX(0.9159)">EEF1A1</div>
<div class="t" style="left:64.53px;top:618px;transform:scaleX(0.8817)">ACTB</div>
<div class="t" style="left:49.98px;top:651px;transform:scaleX(0.9117)">RPL10</div>
<div class="t" style="left:181.18px;top:695px;transform:scaleX(0.9277)">0</div>
<div class="t" style="left:335.32px;top:695px;transform:scaleX(0.9828)">20</div>
<div class="t" style="left:500.24px;top:695px;transform:scaleX(0.9999)">40</div>
<div class="t" style="left:665.28px;top:695px;transform:scaleX(0.9838)">60</div>
<div class="t" style="left:341.90px;top:735px;transform:scaleX(0.9293)">%</div>
<div class="t" style="left:380.98px;top:735px;transform:scaleX(1.0316)">of</div>
<div class="t" style="left:421.20px;top:735px;transform:scaleX(1.0967)">total</div>
<div class="t" style="left:501.88px;top:735px;transform:scaleX(1.0330)">counts</div>
</body></html>
